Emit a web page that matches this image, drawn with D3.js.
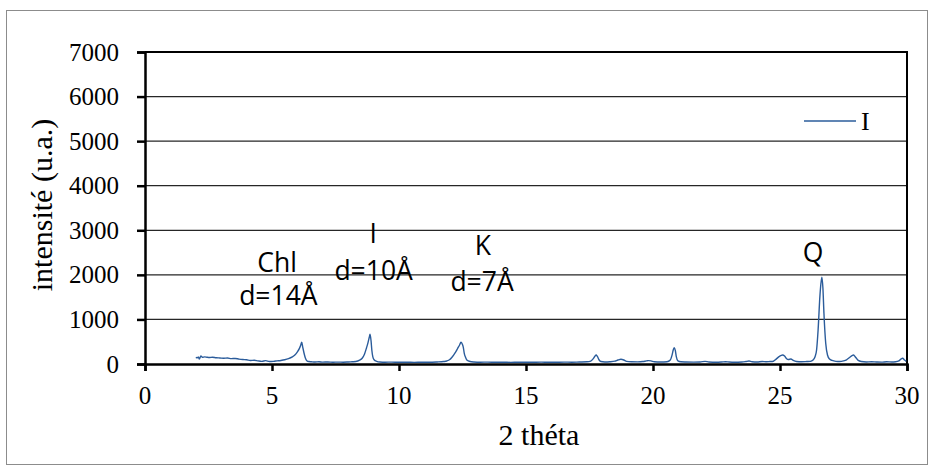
<!DOCTYPE html>
<html><head><meta charset="utf-8">
<script src="https://cdn.jsdelivr.net/npm/d3@7"></script>
<style>body{margin:0;background:#fff;} svg{display:block;} .serif{font-family:"Liberation Serif","Times New Roman",serif;}</style>
</head><body>
<script>
const twoTheta = [2.00,2.06,2.10,2.14,2.20,2.26,2.35,2.45,2.55,2.65,2.80,2.95,3.10,3.25,3.40,3.55,3.70,3.85,4.00,4.15,4.30,4.45,4.60,4.75,4.90,5.05,5.20,5.35,5.50,5.65,5.80,5.90,6.00,6.08,6.13,6.17,6.21,6.26,6.31,6.37,6.45,6.55,6.70,6.85,7.00,7.20,7.40,7.60,7.80,8.00,8.15,8.30,8.45,8.55,8.64,8.72,8.78,8.83,8.86,8.90,8.93,8.97,9.02,9.12,9.25,9.45,9.70,10.00,10.30,10.60,10.90,11.20,11.50,11.75,11.88,12.00,12.07,12.15,12.24,12.31,12.38,12.44,12.49,12.53,12.57,12.62,12.67,12.80,12.95,13.20,13.50,13.80,14.10,14.40,14.70,15.00,15.30,15.60,15.90,16.20,16.50,16.80,17.10,17.40,17.55,17.65,17.72,17.76,17.81,17.88,17.95,18.10,18.30,18.50,18.62,18.74,18.85,18.96,19.15,19.40,19.60,19.75,19.82,19.92,20.05,20.30,20.55,20.68,20.75,20.80,20.84,20.88,20.92,20.98,21.10,21.30,21.60,21.85,22.05,22.20,22.50,22.70,22.86,23.00,23.20,23.50,23.65,23.78,23.90,24.10,24.30,24.45,24.60,24.74,24.85,24.95,25.05,25.10,25.18,25.26,25.33,25.43,25.52,25.65,25.85,26.05,26.20,26.30,26.38,26.44,26.50,26.57,26.61,26.65,26.69,26.73,26.80,26.87,26.95,27.05,27.20,27.35,27.50,27.62,27.75,27.85,27.89,27.95,28.02,28.08,28.20,28.40,28.60,28.80,29.00,29.20,29.40,29.55,29.68,29.76,29.83,29.90,29.97];
const intensity = [150,140,160,110,180,150,160,150,145,150,140,135,130,135,120,125,110,100,95,80,85,70,60,75,55,60,70,80,95,120,160,200,270,350,420,487,380,247,140,75,55,50,45,50,42,45,40,43,40,45,50,55,85,130,220,360,480,600,667,520,314,160,95,60,45,40,42,38,40,37,40,38,45,55,67,100,142,200,277,352,420,487,450,380,240,150,90,55,45,40,42,38,40,37,40,38,40,42,38,40,42,40,45,50,65,120,180,202,170,90,55,45,50,65,90,105,90,60,50,48,55,70,75,70,50,45,50,90,200,320,367,300,160,70,50,45,42,45,60,45,40,45,52,45,40,45,55,67,50,45,55,50,55,62,110,160,195,202,180,120,100,112,80,55,50,55,60,90,164,314,763,1512,1800,1950,1700,1138,465,202,110,80,60,55,70,95,150,195,202,170,120,80,55,45,50,45,42,50,45,50,70,110,128,90,60];
const xTicks = [0,5,10,15,20,25,30];
const yTicks = [0,1000,2000,3000,4000,5000,6000,7000];
const seriesName = "I";
const annotations = [
  {x: 5.2, y: 2064, text: "Chl"}, {x: 5.25, y: 1324, text: "d=14Å"},
  {x: 8.98, y: 2715, text: "I"}, {x: 9.0, y: 1885, text: "d=10Å"},
  {x: 13.3, y: 2446, text: "K"}, {x: 13.27, y: 1638, text: "d=7Å"},
  {x: 26.3, y: 2288, text: "Q"}
];

const W = 934, H = 470;
const svg = d3.select("body").append("svg").attr("width", W).attr("height", H);
svg.append("rect").attr("x",6.5).attr("y",10.5).attr("width",921).attr("height",454)
  .attr("fill","#fff").attr("stroke","#8c8c8c").attr("stroke-width",1);

const x = d3.scaleLinear().domain([0,30]).range([145,907]);
const y = d3.scaleLinear().domain([0,7000]).range([364,52]);

// gridlines
svg.append("g").selectAll("line").data(yTicks.filter(d=>d>0 && d<7000)).join("line")
  .attr("x1",x(0)).attr("x2",x(30)).attr("y1",d=>y(d)).attr("y2",d=>y(d))
  .attr("stroke","#262626").attr("stroke-width",1.2);
// plot border top/right
svg.append("path").attr("d",`M${x(0)},${y(7000)}H${x(30)}V${y(0)}`)
  .attr("fill","none").attr("stroke","#000").attr("stroke-width",2);

// axes (lines and ticks from d3, labels drawn separately in serif)
const yAxis = d3.axisLeft(y).tickValues(yTicks).tickSize(8).tickFormat("");
const gy = svg.append("g").attr("transform",`translate(${x(0)},0)`).call(yAxis);
const xAxis = d3.axisBottom(x).tickValues(xTicks).tickSize(7).tickFormat("");
const gx = svg.append("g").attr("transform",`translate(0,${y(0)})`).call(xAxis);
[gx,gy].forEach(g=>{
  g.select(".domain").attr("stroke","#000").attr("stroke-width",2.5);
  g.selectAll(".tick line").attr("stroke","#000").attr("stroke-width",2.5);
  g.selectAll(".tick text").remove();
});
svg.append("g").selectAll("text").data(yTicks).join("text").attr("class","serif")
  .attr("x",x(0)-26).attr("y",d=>y(d)).attr("dy","0.34em").attr("text-anchor","end")
  .attr("font-size",25).attr("fill","#000").text(d=>d);
svg.append("g").selectAll("text").data(xTicks).join("text").attr("class","serif")
  .attr("x",d=>x(d)).attr("y",y(0)+40).attr("text-anchor","middle")
  .attr("font-size",25).attr("fill","#000").text(d=>d);

// line
const line = d3.line().x((d,i)=>x(twoTheta[i])).y((d,i)=>y(intensity[i])).curve(d3.curveMonotoneX);
svg.append("path").datum(intensity).attr("d",line).attr("fill","none")
  .attr("stroke","#2b5c9b").attr("stroke-width",1.4).attr("stroke-linejoin","round");

// annotations
svg.append("g").selectAll("text").data(annotations).join("text")
  .attr("x",d=>x(d.x)).attr("y",d=>y(d.y)).attr("text-anchor","middle")
  .style("font-family","'Open Sans', sans-serif").style("font-size","26.5px").attr("fill","#000")
  .text(d=>d.text);

// legend
svg.append("line").attr("x1",804).attr("x2",856).attr("y1",121).attr("y2",121)
  .attr("stroke","#2b5c9b").attr("stroke-width",1.4);
svg.append("text").attr("class","serif").attr("x",861).attr("y",129.5)
  .attr("font-size",26).attr("fill","#000").text(seriesName);

// axis titles
svg.append("text").attr("class","serif").attr("x",539).attr("y",445).attr("text-anchor","middle")
  .attr("font-size",30).attr("fill","#000").text("2 théta");
svg.append("text").attr("class","serif").attr("transform","translate(52,205) rotate(-90)").attr("text-anchor","middle")
  .attr("font-size",30).attr("fill","#000").text("intensité (u.a.)");
</script>
</body></html>
